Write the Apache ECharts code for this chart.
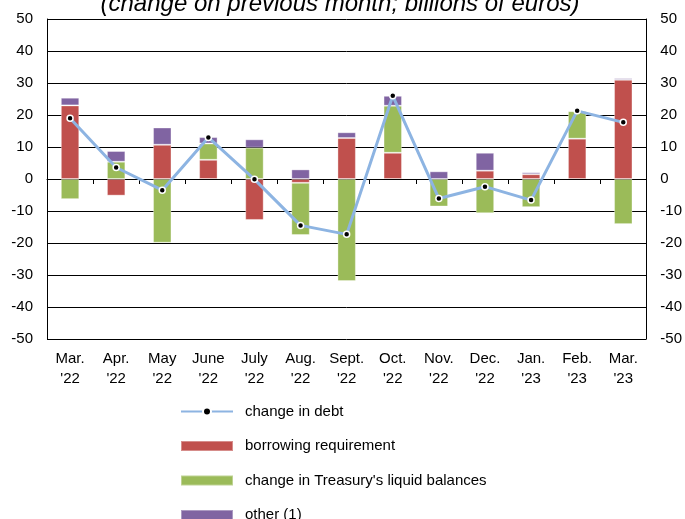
<!DOCTYPE html>
<html>
<head>
<meta charset="utf-8">
<script src="https://cdn.jsdelivr.net/npm/echarts@6/dist/echarts.min.js"></script>
<style>
  html, body { margin: 0; padding: 0; background: #fff; }
  #chart { width: 685px; height: 519px; }
</style>
</head>
<body>
<div id="chart"></div>
<script>
const months = ["Mar.\n'22", "Apr.\n'22", "May\n'22", "June\n'22", "July\n'22", "Aug.\n'22", "Sept.\n'22",
  "Oct.\n'22", "Nov.\n'22", "Dec.\n'22", "Jan.\n'23", "Feb.\n'23", "Mar.\n'23"]
const borrowing = [23.0, -5.2, 10.7, 6.0, -12.8, -1.2, 12.8, 8.2, 0, 2.6, 1.5, 12.6, 31.0]
const liquid = [-6.3, 5.4, -19.9, 5.1, 9.8, -16.3, -31.9, 14.7, -8.6, -10.7, -8.8, 8.6, -14.1]
const other = [2.4, 3.35, 5.4, 2.0, 2.6, 3.0, 1.8, 3.1, 2.4, 5.6, 0.6, 0.3, 0.5]
const debt = [19.0, 3.6, -3.5, 13.0, -0.1, -14.5, -17.3, 26.0, -6.1, -2.4, -6.6, 21.3, 17.7]

const font = 'Liberation Sans'
const chart = echarts.init(document.getElementById('chart'))

function yAxis(pos, margin, split) {
  return {
    type: 'value',
    position: pos,
    min: -50,
    max: 50,
    interval: 10,
    axisLine: { show: true, lineStyle: { color: '#000', width: 1 } },
    axisTick: { show: false },
    axisLabel: { color: '#000', fontSize: 15, fontFamily: font, margin: margin },
    splitLine: { show: split, lineStyle: { color: '#000', width: 1 } }
  }
}

function bar(name, data, color) {
  return {
    name: name,
    type: 'bar',
    stack: 'total',
    data: data,
    barWidth: '40%',
    itemStyle: { color: color, borderColor: 'rgba(255,255,255,0.35)', borderWidth: 1 }
  }
}

chart.setOption({
  animation: false,
  title: {
    text: '(change on previous month; billions of euros)',
    left: 340,
    textAlign: 'center',
    top: -8,
    padding: 0,
    textStyle: { fontSize: 24, fontStyle: 'italic', fontWeight: 'normal', color: '#000', fontFamily: font }
  },
  grid: { left: 47, right: 38, top: 19, bottom: 180, containLabel: false },
  legend: {
    orient: 'vertical',
    left: 180,
    top: 404,
    height: 130,
    padding: 0,
    itemWidth: 52,
    itemHeight: 10,
    itemGap: 19.5,
    textStyle: { fontSize: 15, fontFamily: font, color: '#000', padding: [0, 0, 0, 7] },
    data: [
      { name: 'change in debt' },
      { name: 'borrowing requirement', icon: 'rect' },
      { name: "change in Treasury's liquid balances", icon: 'rect' },
      { name: 'other (1)', icon: 'rect' }
    ]
  },
  xAxis: [
    {
      type: 'category',
      data: months,
      axisLine: { onZero: true, lineStyle: { color: '#000', width: 1 } },
      axisTick: { show: true, length: 5, lineStyle: { color: '#000' } },
      axisLabel: { show: false },
      splitLine: { show: false }
    },
    {
      type: 'category',
      data: months,
      position: 'bottom',
      axisLine: { show: false, onZero: false },
      axisTick: { show: false },
      axisLabel: { color: '#000', fontSize: 15, fontFamily: font, margin: 10, lineHeight: 20, interval: 0 },
      splitLine: { show: false }
    }
  ],
  yAxis: [yAxis('left', 14, true), yAxis('right', 14, false)],
  series: [
    bar('borrowing requirement', borrowing, '#C0504D'),
    bar("change in Treasury's liquid balances", liquid, '#9BBB59'),
    bar('other (1)', other, '#8064A2'),
    {
      name: 'change in debt',
      type: 'line',
      data: debt,
      symbol: 'circle',
      symbolSize: 6,
      lineStyle: { color: '#8DB4E2', width: 3 },
      itemStyle: { color: '#000', borderColor: '#fff', borderWidth: 1.5 },
      z: 5
    }
  ]
})
</script>
</body>
</html>
